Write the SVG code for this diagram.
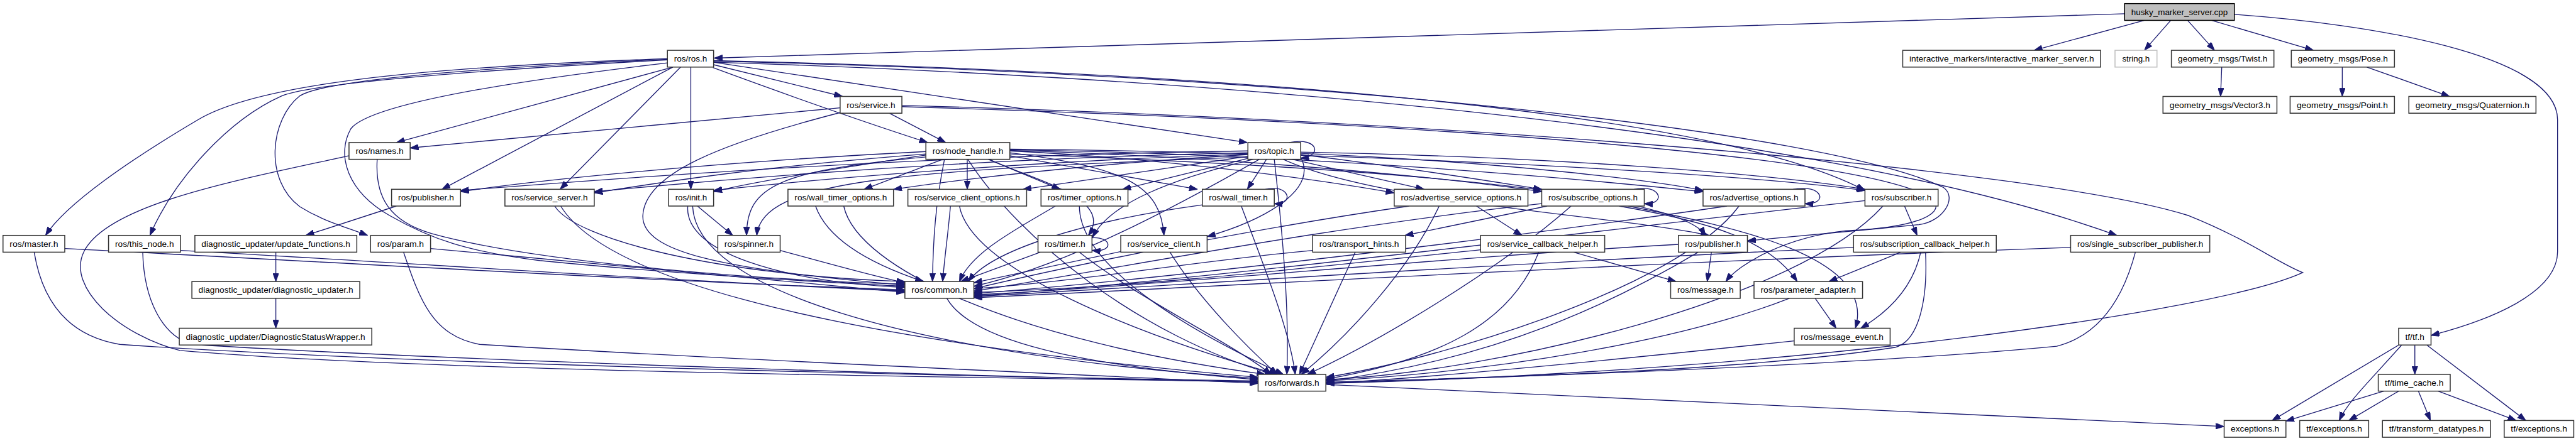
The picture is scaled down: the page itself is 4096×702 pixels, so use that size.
<svg xmlns="http://www.w3.org/2000/svg" width="4096" height="702" viewBox="0 0 4096 702">
<style>
.node rect{fill:#ffffff;stroke:#333333;stroke-width:1.6}
.node text{font-family:"Liberation Sans",Arial,sans-serif;font-size:14px;fill:#000000;text-anchor:middle}
#edges path{fill:none;stroke:#191970;stroke-width:1.4;marker-end:url(#arr)}
</style>
<defs>
<marker id="arr" markerUnits="userSpaceOnUse" markerWidth="14" markerHeight="10" refX="14" refY="5" orient="auto">
<path d="M0,0 L14,5 L0,10 z" fill="#191970" stroke="#191970" stroke-width="1"/>
</marker>
</defs>
<rect x="0" y="0" width="4096" height="702" fill="#ffffff"/>
<g transform="scale(0.9535)">
<g id="edges">
<path d="M3543,23 L1191,97"/>
<path d="M3576,34 L3392,84"/>
<path d="M3620,34 L3576,84"/>
<path d="M3648,34 L3693,84"/>
<path d="M3688,34 L3858,84"/>
<path d="M3726,24 C3950,40 4265,90 4265,200 L4265,420 C4265,490 4150,535 4054,560"/>
<path d="M3705,112 L3703,161"/>
<path d="M3906,112 L3906,161"/>
<path d="M3947,112 L4085,161"/>
<path d="M4000,576 L3789,702"/>
<path d="M4005,576 C3955,633 3915,670 3901,702"/>
<path d="M4027,576 L4027,625"/>
<path d="M4047,576 L4212,702"/>
<path d="M3975,653 L3812,703"/>
<path d="M4000,653 L3917,702"/>
<path d="M4033,653 L4053,702"/>
<path d="M4066,653 L4196,702"/>
<path d="M2211,642 C2800,668 3400,697 3709,712"/>
<path d="M1113,98 C700,112 430,140 330,200 C220,265 110,340 76,393"/>
<path d="M1113,100 C750,120 520,140 470,160 C380,200 290,300 250,393"/>
<path d="M1113,99 C760,115 540,135 500,160 C450,200 440,300 500,345 C540,370 580,380 613,393"/>
<path d="M1122,112 L661,238"/>
<path d="M1122,112 L737,316"/>
<path d="M1135,112 L934,316"/>
<path d="M1152,112 L1152,316"/>
<path d="M1190,108 L1405,161"/>
<path d="M1189,113 C1330,165 1460,210 1547,238"/>
<path d="M1190,104 L2080,238"/>
<path d="M1113,105 C900,130 620,170 585,215 C560,260 580,320 650,360 C720,400 780,420 900,435 C1100,455 1350,470 1509,478"/>
<path d="M1190,101 C2000,120 2850,180 3110,318"/>
<path d="M1190,104 C1900,125 3000,200 3530,393"/>
<path d="M1190,102 C2200,125 3050,220 3241,313 C3265,330 3240,370 3200,375 C3100,385 2990,395 2914,402"/>
<path d="M1401,180 L684,247"/>
<path d="M1483,189 L1577,238"/>
<path d="M1401,188 C1200,240 1075,290 1072,360 C1070,420 1200,450 1509,476"/>
<path d="M1504,176 C2400,200 3400,280 3650,360 C3750,400 3800,440 3840,455 C3700,520 3000,620 2211,640"/>
<path d="M1504,178 C2400,205 3100,260 3220,330 C3250,355 3200,380 3080,385 C2980,395 2900,440 2878,470"/>
<path d="M629,266 C625,330 650,370 720,390 C900,440 1300,470 1509,474"/>
<path d="M582,260 C400,300 180,340 140,420 C110,480 200,560 300,585 C700,620 1600,630 2098,637"/>
<path d="M1544,253 C1200,270 900,300 768,320"/>
<path d="M1544,257 C1250,280 1100,305 991,322"/>
<path d="M1544,259 C1400,280 1250,305 1190,320"/>
<path d="M1572,266 L1441,316"/>
<path d="M1613,266 L1613,316"/>
<path d="M1648,266 L1768,316"/>
<path d="M1684,260 L1997,316"/>
<path d="M1684,252 C1950,265 2200,300 2325,322"/>
<path d="M1684,251 C2050,262 2400,295 2571,320"/>
<path d="M1684,250 C2200,258 2650,300 2840,320"/>
<path d="M1684,249 C2300,255 2900,290 3110,318"/>
<path d="M1544,262 C1300,285 1245,310 1245,393"/>
<path d="M1650,266 C1720,300 1860,330 1815,393"/>
<path d="M1684,255 C1880,280 1935,310 1941,393"/>
<path d="M1575,266 C1560,340 1556,400 1555,470"/>
<path d="M1614,266 C1700,400 1900,560 2123,625"/>
<path d="M1684,257 C2300,280 2800,320 2844,393"/>
<path d="M2150,238 C2200,228 2205,262 2169,264"/>
<path d="M2081,252 C1500,260 1000,300 768,318"/>
<path d="M2081,255 C1600,265 1200,300 991,320"/>
<path d="M2081,257 C1700,270 1350,300 1190,318"/>
<path d="M2081,258 C1800,275 1600,300 1490,316"/>
<path d="M2081,261 L1706,316"/>
<path d="M2083,264 L1872,316"/>
<path d="M2112,266 L2080,316"/>
<path d="M2155,266 L2375,316"/>
<path d="M2169,258 C2350,280 2500,305 2571,316"/>
<path d="M2169,256 C2500,270 2750,300 2840,318"/>
<path d="M2169,254 C2600,262 2950,290 3110,316"/>
<path d="M2081,262 C1500,285 1270,300 1262,393"/>
<path d="M2090,266 C1950,300 1850,340 1822,396"/>
<path d="M2169,262 C2200,320 2100,370 2013,395"/>
<path d="M2100,266 C1900,380 1750,450 1624,478"/>
<path d="M2125,266 C2140,400 2150,520 2146,625"/>
<path d="M2140,266 C2300,340 2700,360 2850,393"/>
<path d="M661,344 L510,393"/>
<path d="M460,421 L460,470"/>
<path d="M460,498 L460,548"/>
<path d="M925,344 C960,400 1200,460 1509,470"/>
<path d="M935,344 C1000,450 1300,560 2098,630"/>
<path d="M1163,344 L1222,393"/>
<path d="M1147,344 C1140,420 1300,470 1509,480"/>
<path d="M1155,344 C1160,480 1500,590 2098,632"/>
<path d="M1360,344 C1380,400 1450,440 1540,470"/>
<path d="M1407,344 C1430,450 1700,570 2110,625"/>
<path d="M1585,344 C1580,400 1575,430 1572,470"/>
<path d="M1600,344 C1620,450 1900,560 2130,625"/>
<path d="M1760,344 C1700,380 1620,420 1600,470"/>
<path d="M1800,344 C1800,450 2000,560 2140,625"/>
<path d="M2110,316 C2150,306 2160,342 2125,340"/>
<path d="M2005,342 C1800,370 1650,420 1615,470"/>
<path d="M2070,344 C2110,450 2150,550 2160,625"/>
<path d="M2462,344 L2538,393"/>
<path d="M2350,344 C2100,380 1800,440 1624,482"/>
<path d="M2400,344 C2350,450 2250,560 2170,625"/>
<path d="M2725,316 C2770,306 2780,342 2742,340"/>
<path d="M2580,344 L2343,393"/>
<path d="M2571,340 C2200,380 1800,460 1624,486"/>
<path d="M2620,344 C2500,450 2300,570 2180,625"/>
<path d="M2700,344 C2850,370 2950,400 2997,470"/>
<path d="M2715,344 C2900,380 3130,430 3094,548"/>
<path d="M2990,316 C3040,306 3050,342 3010,340"/>
<path d="M2880,344 C2500,400 1900,470 1624,490"/>
<path d="M2900,344 C2800,480 2400,600 2211,630"/>
<path d="M3176,344 L3197,393"/>
<path d="M3110,335 C2700,380 2000,470 1624,494"/>
<path d="M3140,344 C3000,500 2500,620 2211,634"/>
<path d="M108,415 C600,440 1100,470 1509,484"/>
<path d="M57,421 C70,500 110,560 200,575 C700,610 1700,630 2098,636"/>
<path d="M301,418 C700,440 1100,468 1509,486"/>
<path d="M238,421 C240,500 270,560 320,575 C800,605 1700,630 2098,638"/>
<path d="M718,415 C1000,440 1300,470 1509,488"/>
<path d="M673,421 C700,500 720,560 800,575 C1200,600 1800,625 2098,640"/>
<path d="M1301,418 C1400,445 1460,462 1509,472"/>
<path d="M1821,397 C1855,395 1858,422 1821,418"/>
<path d="M1735,421 L1602,470"/>
<path d="M1800,421 C1900,500 2050,570 2120,625"/>
<path d="M1869,420 L1624,472"/>
<path d="M1951,421 C2000,500 2080,580 2130,625"/>
<path d="M2189,418 C2000,435 1800,470 1624,482"/>
<path d="M2260,421 L2167,625"/>
<path d="M2469,417 C2200,445 1900,480 1624,488"/>
<path d="M2566,421 C2520,540 2400,600 2211,633"/>
<path d="M2624,421 L2795,470"/>
<path d="M2854,421 L2847,470"/>
<path d="M2799,408 C2400,430 1900,480 1624,492"/>
<path d="M2832,421 C2700,500 2500,600 2211,636"/>
<path d="M3170,421 L3050,470"/>
<path d="M3203,421 C3190,480 3150,520 3103,548"/>
<path d="M3091,413 C2500,440 1900,480 1624,495"/>
<path d="M3211,421 C3215,500 3200,570 3160,580 C2900,620 2500,630 2211,638"/>
<path d="M3453,413 C2700,440 2000,480 1624,497"/>
<path d="M3561,421 C3540,500 3500,560 3430,578 C3100,610 2500,630 2211,640"/>
<path d="M1579,498 C1620,570 1800,610 2098,634"/>
<path d="M3027,498 L3062,548"/>
<path d="M2984,498 C2800,570 2500,620 2211,636"/>
<path d="M2992,569 C2700,600 2400,630 2211,640"/>
</g>
<g id="n_husky" class="node"><rect x="3543" y="6" width="183" height="28" style="fill:#bfbfbf;stroke:#000000"/><text x="3634.5" y="25" textLength="161" lengthAdjust="spacingAndGlyphs">husky_marker_server.cpp</text></g>
<g id="n_ros" class="node"><rect x="1113" y="84" width="77" height="28"/><text x="1151.5" y="103" textLength="55" lengthAdjust="spacingAndGlyphs">ros/ros.h</text></g>
<g id="n_ims" class="node"><rect x="3173" y="84" width="330" height="28"/><text x="3338" y="103" textLength="308" lengthAdjust="spacingAndGlyphs">interactive_markers/interactive_marker_server.h</text></g>
<g id="n_string" class="node"><rect x="3527" y="84" width="70" height="28" style="stroke:#bfbfbf"/><text x="3562" y="103" textLength="46" lengthAdjust="spacingAndGlyphs">string.h</text></g>
<g id="n_twist" class="node"><rect x="3621" y="84" width="171" height="28"/><text x="3706.5" y="103" textLength="149" lengthAdjust="spacingAndGlyphs">geometry_msgs/Twist.h</text></g>
<g id="n_pose" class="node"><rect x="3821" y="84" width="172" height="28"/><text x="3907" y="103" textLength="150" lengthAdjust="spacingAndGlyphs">geometry_msgs/Pose.h</text></g>
<g id="n_service" class="node"><rect x="1401" y="161" width="103" height="28"/><text x="1452.5" y="180" textLength="81" lengthAdjust="spacingAndGlyphs">ros/service.h</text></g>
<g id="n_vector3" class="node"><rect x="3607" y="161" width="190" height="28"/><text x="3702" y="180" textLength="168" lengthAdjust="spacingAndGlyphs">geometry_msgs/Vector3.h</text></g>
<g id="n_point" class="node"><rect x="3819" y="161" width="174" height="28"/><text x="3906" y="180" textLength="152" lengthAdjust="spacingAndGlyphs">geometry_msgs/Point.h</text></g>
<g id="n_quaternion" class="node"><rect x="4017" y="161" width="212" height="28"/><text x="4123" y="180" textLength="190" lengthAdjust="spacingAndGlyphs">geometry_msgs/Quaternion.h</text></g>
<g id="n_names" class="node"><rect x="582" y="238" width="102" height="28"/><text x="633" y="257" textLength="80" lengthAdjust="spacingAndGlyphs">ros/names.h</text></g>
<g id="n_node_handle" class="node"><rect x="1544" y="238" width="140" height="28"/><text x="1614" y="257" textLength="118" lengthAdjust="spacingAndGlyphs">ros/node_handle.h</text></g>
<g id="n_topic" class="node"><rect x="2081" y="238" width="88" height="28"/><text x="2125" y="257" textLength="66" lengthAdjust="spacingAndGlyphs">ros/topic.h</text></g>
<g id="n_publisher_a" class="node"><rect x="653" y="316" width="115" height="28"/><text x="710.5" y="335" textLength="93" lengthAdjust="spacingAndGlyphs">ros/publisher.h</text></g>
<g id="n_service_server" class="node"><rect x="842" y="316" width="149" height="28"/><text x="916.5" y="335" textLength="127" lengthAdjust="spacingAndGlyphs">ros/service_server.h</text></g>
<g id="n_init" class="node"><rect x="1115" y="316" width="75" height="28"/><text x="1152.5" y="335" textLength="53" lengthAdjust="spacingAndGlyphs">ros/init.h</text></g>
<g id="n_wall_timer_options" class="node"><rect x="1314" y="316" width="176" height="28"/><text x="1402" y="335" textLength="154" lengthAdjust="spacingAndGlyphs">ros/wall_timer_options.h</text></g>
<g id="n_service_client_options" class="node"><rect x="1514" y="316" width="198" height="28"/><text x="1613" y="335" textLength="176" lengthAdjust="spacingAndGlyphs">ros/service_client_options.h</text></g>
<g id="n_timer_options" class="node"><rect x="1736" y="316" width="145" height="28"/><text x="1808.5" y="335" textLength="123" lengthAdjust="spacingAndGlyphs">ros/timer_options.h</text></g>
<g id="n_wall_timer" class="node"><rect x="2005" y="316" width="120" height="28"/><text x="2065" y="335" textLength="98" lengthAdjust="spacingAndGlyphs">ros/wall_timer.h</text></g>
<g id="n_advertise_service_options" class="node"><rect x="2325" y="316" width="223" height="28"/><text x="2436.5" y="335" textLength="201" lengthAdjust="spacingAndGlyphs">ros/advertise_service_options.h</text></g>
<g id="n_subscribe_options" class="node"><rect x="2571" y="316" width="171" height="28"/><text x="2656.5" y="335" textLength="149" lengthAdjust="spacingAndGlyphs">ros/subscribe_options.h</text></g>
<g id="n_advertise_options" class="node"><rect x="2840" y="316" width="170" height="28"/><text x="2925" y="335" textLength="148" lengthAdjust="spacingAndGlyphs">ros/advertise_options.h</text></g>
<g id="n_subscriber" class="node"><rect x="3110" y="316" width="122" height="28"/><text x="3171" y="335" textLength="100" lengthAdjust="spacingAndGlyphs">ros/subscriber.h</text></g>
<g id="n_master" class="node"><rect x="5" y="393" width="103" height="28"/><text x="56.5" y="412" textLength="81" lengthAdjust="spacingAndGlyphs">ros/master.h</text></g>
<g id="n_this_node" class="node"><rect x="181" y="393" width="120" height="28"/><text x="241" y="412" textLength="98" lengthAdjust="spacingAndGlyphs">ros/this_node.h</text></g>
<g id="n_update_functions" class="node"><rect x="325" y="393" width="270" height="28"/><text x="460" y="412" textLength="248" lengthAdjust="spacingAndGlyphs">diagnostic_updater/update_functions.h</text></g>
<g id="n_param" class="node"><rect x="618" y="393" width="100" height="28"/><text x="668" y="412" textLength="78" lengthAdjust="spacingAndGlyphs">ros/param.h</text></g>
<g id="n_spinner" class="node"><rect x="1197" y="393" width="104" height="28"/><text x="1249" y="412" textLength="82" lengthAdjust="spacingAndGlyphs">ros/spinner.h</text></g>
<g id="n_timer" class="node"><rect x="1731" y="393" width="90" height="28"/><text x="1776" y="412" textLength="68" lengthAdjust="spacingAndGlyphs">ros/timer.h</text></g>
<g id="n_service_client" class="node"><rect x="1869" y="393" width="144" height="28"/><text x="1941" y="412" textLength="122" lengthAdjust="spacingAndGlyphs">ros/service_client.h</text></g>
<g id="n_transport_hints" class="node"><rect x="2189" y="393" width="155" height="28"/><text x="2266.5" y="412" textLength="133" lengthAdjust="spacingAndGlyphs">ros/transport_hints.h</text></g>
<g id="n_service_callback_helper" class="node"><rect x="2469" y="393" width="207" height="28"/><text x="2572.5" y="412" textLength="185" lengthAdjust="spacingAndGlyphs">ros/service_callback_helper.h</text></g>
<g id="n_publisher_b" class="node"><rect x="2799" y="393" width="115" height="28"/><text x="2856.5" y="412" textLength="93" lengthAdjust="spacingAndGlyphs">ros/publisher.h</text></g>
<g id="n_subscription_callback_helper" class="node"><rect x="3091" y="393" width="238" height="28"/><text x="3210" y="412" textLength="216" lengthAdjust="spacingAndGlyphs">ros/subscription_callback_helper.h</text></g>
<g id="n_single_subscriber_publisher" class="node"><rect x="3453" y="393" width="232" height="28"/><text x="3569" y="412" textLength="210" lengthAdjust="spacingAndGlyphs">ros/single_subscriber_publisher.h</text></g>
<g id="n_diagnostic_updater" class="node"><rect x="320" y="470" width="280" height="28"/><text x="460" y="489" textLength="258" lengthAdjust="spacingAndGlyphs">diagnostic_updater/diagnostic_updater.h</text></g>
<g id="n_common" class="node"><rect x="1509" y="470" width="115" height="28"/><text x="1566.5" y="489" textLength="93" lengthAdjust="spacingAndGlyphs">ros/common.h</text></g>
<g id="n_message" class="node"><rect x="2786" y="470" width="116" height="28"/><text x="2844" y="489" textLength="94" lengthAdjust="spacingAndGlyphs">ros/message.h</text></g>
<g id="n_parameter_adapter" class="node"><rect x="2925" y="470" width="181" height="28"/><text x="3015.5" y="489" textLength="159" lengthAdjust="spacingAndGlyphs">ros/parameter_adapter.h</text></g>
<g id="n_dsw" class="node"><rect x="299" y="548" width="321" height="28"/><text x="459.5" y="567" textLength="299" lengthAdjust="spacingAndGlyphs">diagnostic_updater/DiagnosticStatusWrapper.h</text></g>
<g id="n_message_event" class="node"><rect x="2992" y="548" width="160" height="28"/><text x="3072" y="567" textLength="138" lengthAdjust="spacingAndGlyphs">ros/message_event.h</text></g>
<g id="n_tf" class="node"><rect x="4000" y="548" width="54" height="28"/><text x="4027" y="567" textLength="32" lengthAdjust="spacingAndGlyphs">tf/tf.h</text></g>
<g id="n_forwards" class="node"><rect x="2098" y="625" width="113" height="28"/><text x="2154.5" y="644" textLength="91" lengthAdjust="spacingAndGlyphs">ros/forwards.h</text></g>
<g id="n_time_cache" class="node"><rect x="3966" y="625" width="120" height="28"/><text x="4026" y="644" textLength="98" lengthAdjust="spacingAndGlyphs">tf/time_cache.h</text></g>
<g id="n_exceptions" class="node"><rect x="3709" y="702" width="103" height="28"/><text x="3760.5" y="721" textLength="81" lengthAdjust="spacingAndGlyphs">exceptions.h</text></g>
<g id="n_tf_exceptions" class="node"><rect x="3835" y="702" width="115" height="28"/><text x="3892.5" y="721" textLength="93" lengthAdjust="spacingAndGlyphs">tf/exceptions.h</text></g>
<g id="n_transform_datatypes" class="node"><rect x="3973" y="702" width="180" height="28"/><text x="4063" y="721" textLength="158" lengthAdjust="spacingAndGlyphs">tf/transform_datatypes.h</text></g>
<g id="n_tf_exceptions2" class="node"><rect x="4176" y="702" width="116" height="28"/><text x="4234" y="721" textLength="94" lengthAdjust="spacingAndGlyphs">tf/exceptions.h</text></g>
</g>
</svg>
